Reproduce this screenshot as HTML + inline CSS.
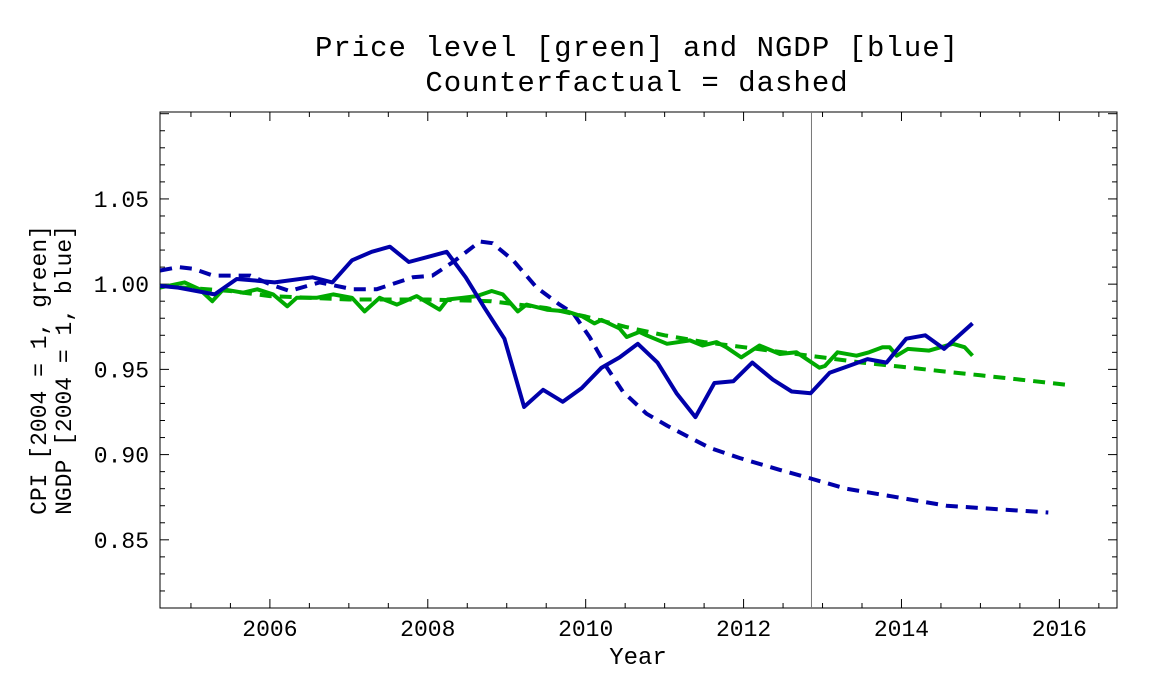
<!DOCTYPE html>
<html><head><meta charset="utf-8"><style>
body{margin:0;background:#fff;}
svg{display:block;}
text{font-family:"Liberation Mono","DejaVu Sans Mono",monospace;fill:#000;}
</style></head><body>
<svg id="chart" width="1152" height="699" viewBox="0 0 1152 699">
<text x="637" y="56" text-anchor="middle" font-size="29" letter-spacing="1">Price level [green] and NGDP [blue]</text>
<text x="637" y="91" text-anchor="middle" font-size="29" letter-spacing="1">Counterfactual = dashed</text>
<rect x="160" y="112" width="957" height="496" fill="none" stroke="#000" stroke-width="1"/>
<g id="ticks"></g>
<g id="series"></g>
<text x="638" y="664" text-anchor="middle" font-size="24">Year</text>
<text transform="translate(46,370) rotate(-90)" text-anchor="middle" font-size="23">CPI [2004 = 1, green]</text>
<text transform="translate(71,370) rotate(-90)" text-anchor="middle" font-size="23">NGDP [2004 = 1, blue]</text>
</svg>
<script>
const xTicks=[2006,2008,2010,2012,2014,2016];
const yTicks=[0.85,0.90,0.95,1.00,1.05];
const yTickLabels=["0.85","0.90","0.95","1.00","1.05"];
const markerYear=2012.86;
const blueSolidYears=[2004.61,2004.84,2005.30,2005.58,2005.84,2006.06,2006.54,2006.79,2007.04,2007.29,2007.52,2007.76,2008.0,2008.24,2008.48,2008.72,2008.97,2009.22,2009.46,2009.71,2009.95,2010.20,2010.43,2010.66,2010.91,2011.15,2011.39,2011.63,2011.87,2012.11,2012.37,2012.61,2012.85,2013.09,2013.33,2013.57,2013.81,2014.06,2014.30,2014.54,2014.90];
const blueSolidValues=[0.999,0.998,0.994,1.003,1.002,1.001,1.004,1.001,1.014,1.019,1.022,1.013,1.016,1.019,1.004,0.986,0.968,0.928,0.938,0.931,0.939,0.951,0.957,0.965,0.954,0.936,0.922,0.942,0.943,0.954,0.944,0.937,0.936,0.948,0.952,0.956,0.954,0.968,0.970,0.962,0.977];
const blueDashYears=[2004.61,2004.84,2005.03,2005.28,2005.75,2006.0,2006.25,2006.63,2007.05,2007.35,2007.81,2008.06,2008.32,2008.66,2008.82,2009.08,2009.38,2009.67,2009.84,2010.05,2010.27,2010.47,2010.77,2011.03,2011.32,2011.57,2011.95,2012.46,2012.85,2013.30,2013.94,2014.57,2015.20,2015.86];
const blueDashValues=[1.008,1.010,1.009,1.005,1.005,1.000,0.996,1.001,0.997,0.997,1.004,1.005,1.013,1.025,1.024,1.014,0.998,0.988,0.983,0.969,0.951,0.937,0.924,0.917,0.910,0.904,0.898,0.891,0.886,0.880,0.875,0.870,0.868,0.866];
const greenSolidYears=[2004.61,2004.92,2005.11,2005.27,2005.41,2005.66,2005.84,2006.04,2006.22,2006.34,2006.59,2006.80,2007.04,2007.20,2007.39,2007.61,2007.86,2008.15,2008.25,2008.44,2008.62,2008.81,2008.95,2009.14,2009.25,2009.51,2009.76,2009.96,2010.11,2010.20,2010.43,2010.52,2010.68,2010.77,2011.03,2011.32,2011.48,2011.66,2011.78,2011.97,2012.20,2012.46,2012.67,2012.96,2013.03,2013.19,2013.43,2013.59,2013.76,2013.85,2013.94,2014.08,2014.35,2014.65,2014.80,2014.90];
const greenSolidValues=[0.998,1.001,0.997,0.990,0.997,0.995,0.997,0.994,0.987,0.992,0.992,0.994,0.992,0.984,0.992,0.988,0.993,0.985,0.991,0.992,0.993,0.996,0.994,0.984,0.988,0.985,0.984,0.981,0.977,0.979,0.974,0.969,0.972,0.970,0.965,0.967,0.964,0.966,0.963,0.957,0.964,0.959,0.960,0.951,0.952,0.960,0.958,0.960,0.963,0.963,0.958,0.962,0.961,0.965,0.963,0.958];
const greenDashYears=[2004.61,2005.5,2006.0,2007.0,2008.0,2008.8,2009.5,2010.0,2010.5,2011.0,2011.5,2012.0,2012.5,2013.0,2013.5,2014.0,2014.5,2015.0,2015.5,2016.08];
const greenDashValues=[0.999,0.996,0.993,0.991,0.991,0.990,0.986,0.981,0.975,0.970,0.966,0.963,0.960,0.957,0.954,0.9515,0.949,0.9465,0.944,0.941];

const NS="http://www.w3.org/2000/svg";
const L=160,R=1117,T=112,B=608;
const X0=2004.608,X1=2016.73,Y0=0.81,Y1=1.101;
function xs(v){return L+(v-X0)/(X1-X0)*(R-L);}
function ys(v){return B-(v-Y0)/(Y1-Y0)*(B-T);}
function mk(tag,attrs,parent){const e=document.createElementNS(NS,tag);for(const k in attrs)e.setAttribute(k,attrs[k]);parent.appendChild(e);return e;}
const tg=document.getElementById('ticks');
for(let y=2004.5;y<=2017;y+=0.5){const x=xs(y);if(x<L||x>R)continue;const major=xTicks.includes(y);const len=major?9:5;
 let t=mk('line',{x1:x,x2:x,y1:B,y2:B-len,stroke:'#000','stroke-width':1},tg);
 
 
 let t2=mk('line',{x1:x,x2:x,y1:T,y2:T+len,stroke:'#000','stroke-width':1},tg);
 
 }
xTicks.forEach(v=>{const e=mk('text',{x:xs(v),y:636,'text-anchor':'middle','font-size':23},tg);e.textContent=String(v);
 
 });
for(let k=81;k<=110;k++){const v=k/100;const y=ys(v);if(y<T||y>B)continue;const major=(k%5===0);const len=major?9:5;
 let t=mk('line',{x1:L,x2:L+len,y1:y,y2:y,stroke:'#000','stroke-width':1},tg);
 
 
 let t2=mk('line',{x1:R,x2:R-len,y1:y,y2:y,stroke:'#000','stroke-width':1},tg);
 
 }
yTicks.forEach((v,i)=>{const e=mk('text',{x:149,y:ys(v)+8,'text-anchor':'end','font-size':23},tg);e.textContent=yTickLabels[i];
 
 });
const sg=document.getElementById('series');
const vl=mk('line',{x1:xs(markerYear),x2:xs(markerYear),y1:T,y2:B,stroke:'#777','stroke-width':1},sg);


function line(xsArr,vals,color,dash,name){const pts=xsArr.map((v,i)=>xs(v).toFixed(1)+','+ys(vals[i]).toFixed(1)).join(' ');
 const p=mk('polyline',{points:pts,fill:'none',stroke:color,'stroke-width':4,'stroke-linejoin':'round'},sg);
 if(dash)p.setAttribute('stroke-dasharray','12 8');
 
 }
line(greenDashYears,greenDashValues,'#00AA00',true,'cpi-counterfactual-line');
line(blueDashYears,blueDashValues,'#0000AA',true,'ngdp-counterfactual-line');
line(greenSolidYears,greenSolidValues,'#00AA00',false,'cpi-actual-line');
line(blueSolidYears,blueSolidValues,'#0000AA',false,'ngdp-actual-line');
</script>
</body></html>
